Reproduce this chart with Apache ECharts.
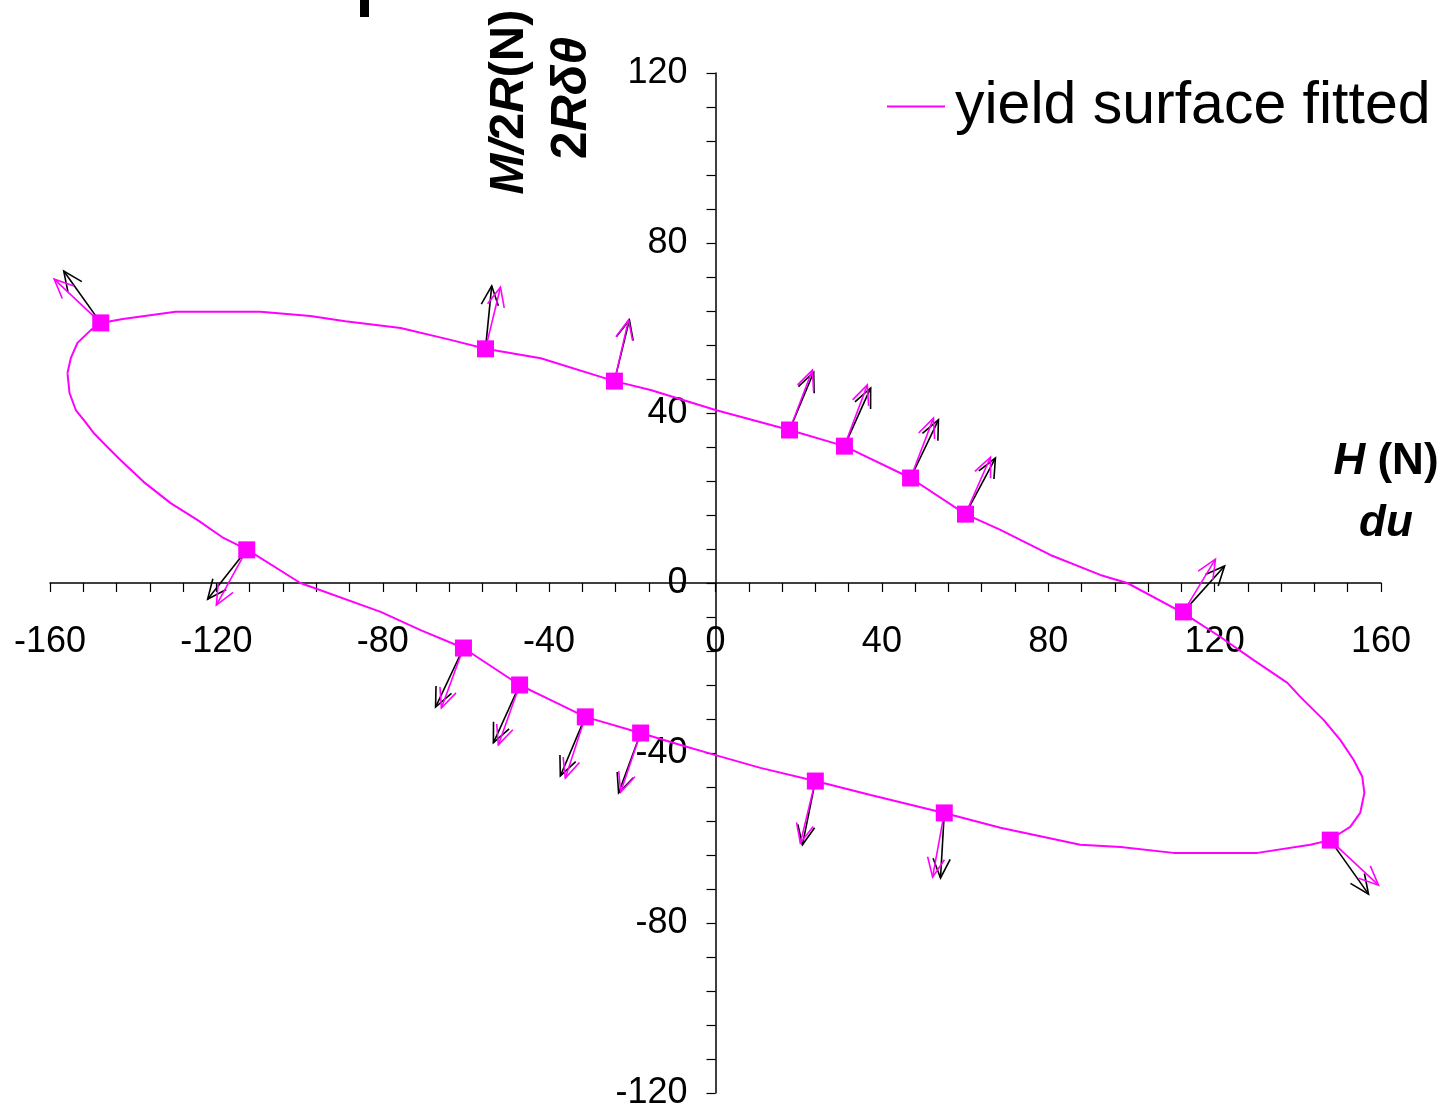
<!DOCTYPE html>
<html>
<head>
<meta charset="utf-8">
<script src="https://cdn.jsdelivr.net/npm/echarts@6/dist/echarts.min.js"></script>
<style>
html,body{margin:0;padding:0;background:#fff;}
#chart{width:1447px;height:1111px;}
</style>
</head>
<body>
<div id="chart"></div>
<script>
// ---- data (H in N, M/2R in N) ----
const xTicks = [-160, -120, -80, -40, 0, 40, 80, 120, 160];
const yTicks = [-120, -80, -40, 0, 40, 80, 120];

// fitted yield surface (closed loop)
const yieldSurface = [
  [-155.8,49.4],[-155.0,52.9],[-153.4,56.5],[-150.2,59.5],[-147.8,61.2],[-142.5,62.1],
  [-129.8,63.8],[-109.4,63.8],[-97.4,62.8],[-89,61.6],[-75.7,60],[-63.7,57.2],
  [-55.3,55.1],[-42,52.9],[-24.3,47.5],[-15.6,45.4],[0,40.7],[17.8,36],[31,32.2],
  [46.9,24.7],[60.1,16.2],[68.5,12.5],[80.5,6.6],[92.5,1.9],[99,0],[112.5,-7.1],
  [121.4,-12.7],[129.3,-18.1],[137.5,-23.5],[140.6,-26.8],[146.2,-32.2],[150.2,-36.9],
  [153.4,-41.6],[155.5,-45.6],[156.0,-49.4],[155.0,-54.1],[152.6,-57.4],[149.5,-59.3],
  [147.8,-60.5],[143.0,-61.6],[130.3,-63.5],[110.1,-63.5],[97.4,-62.1],[87.7,-61.6],
  [68.5,-57.6],[55,-54.1],[37.3,-49.9],[24,-46.6],[10.8,-43.5],[0,-40.5],[-8.4,-38.1],
  [-18,-35.3],[-31.3,-31.5],[-39.7,-27.5],[-47.1,-24],[-60.6,-15.3],[-70.9,-11.1],
  [-80.5,-6.8],[-99.8,0],[-112.5,7.8],[-118.3,10.6],[-124.5,14.8],[-131.0,18.8],
  [-137.5,23.8],[-143.0,28.9],[-146.2,32],[-149.5,35.3],[-151.9,38.4],[-153.8,40.7],
  [-155.3,44.7],[-155.8,49.4]
];

// measured load points on the surface
const loadPoints = [
  [-147.8,61.2],[-55.3,55.1],[-24.3,47.5],[17.8,36],[31,32.2],[46.9,24.7],[60.1,16.2],
  [112.5,-6.8],[147.8,-60.5],[-112.7,7.8],[-60.6,-15.3],[-47.1,-24],[-31.3,-31.5],
  [-18,-35.3],[24,-46.6],[55,-54.1]
];

// tips of the measured displacement increments (du, 2R dtheta) - black arrows
const flowTips = [
  [-156.7,73.4],[-53.8,69.9],[-20.7,61.9],[23.6,49.6],[37.3,45.9],[53.6,38.4],[67.3,29.4],
  [122.4,4.0],[157,-73.2],[-122.1,-3.8],[-67.3,-29.2],[-53.4,-37.6],[-37.3,-45.4],
  [-23.3,-49.4],[20.9,-61.6],[54.1,-69.4]
];

// tips of the normals to the fitted surface - magenta arrows
const normalTips = [
  [-159,71.5],[-51.7,69.6],[-20.9,61.9],[23.3,50.1],[36.5,46.6],[52.4,38.8],[66.1,29.6],
  [120.2,5.6],[159.4,-71.1],[-120,-5.2],[-65.9,-29.4],[-52.2,-38.1],[-36.1,-45.9],
  [-22.8,-49.2],[20.4,-61.2],[52.2,-69.2]
];

// ---- chart ----
const FONT = "'Liberation Sans', Arial, sans-serif";
const MAGENTA = '#FF00FF';
const W = 1447, H = 1111;
const GRID = { left: 50, right: 66, top: 73, bottom: 18 };
const xMin = xTicks[0], xMax = xTicks[xTicks.length - 1];
const yMin = yTicks[0], yMax = yTicks[yTicks.length - 1];
// move axes so that they cross at the origin (labels travel with them)
const gridW = W - GRID.left - GRID.right, gridH = H - GRID.top - GRID.bottom;
const xAxisOffset = -gridH * (0 - yMin) / (yMax - yMin);
const yAxisOffset = -gridW * (0 - xMin) / (xMax - xMin);

function arrowRenderer(color) {
  return function (params, api) {
    const a = api.coord([api.value(0), api.value(1)]);
    const b = api.coord([api.value(2), api.value(3)]);
    const ang = Math.atan2(b[1] - a[1], b[0] - a[0]);
    const L = 21, w = 0.42;
    const h1 = [b[0] - L * Math.cos(ang - w), b[1] - L * Math.sin(ang - w)];
    const h2 = [b[0] - L * Math.cos(ang + w), b[1] - L * Math.sin(ang + w)];
    return {
      type: 'group',
      children: [
        { type: 'line', shape: { x1: a[0], y1: a[1], x2: b[0], y2: b[1] },
          style: { stroke: color, lineWidth: 1.6 } },
        { type: 'polyline', shape: { points: [h1, b, h2] },
          style: { stroke: color, lineWidth: 1.6, fill: null } }
      ]
    };
  };
}

const flowData = loadPoints.map((p, i) => [p[0], p[1], flowTips[i][0], flowTips[i][1]]);
const normalData = loadPoints.map((p, i) => [p[0], p[1], normalTips[i][0], normalTips[i][1]]);

const chart = echarts.init(document.getElementById('chart'), null, { renderer: 'canvas' });

const option = {
  backgroundColor: '#ffffff',
  animation: false,
  textStyle: { fontFamily: FONT },
  grid: Object.assign({ containLabel: false, outerBoundsMode: 'none' }, GRID),
  legend: {
    data: ['yield surface fitted'],
    left: 882, top: 72,
    icon: 'rect', itemWidth: 58, itemHeight: 2,
    textStyle: { fontSize: 59, color: '#000', fontFamily: FONT, padding: [0, 0, 0, 5] },
    selectedMode: false
  },
  xAxis: {
    type: 'value', min: xMin, max: xMax, interval: 8,
    position: 'bottom', offset: xAxisOffset,
    splitLine: { show: false },
    axisLine: { onZero: false, lineStyle: { color: '#000', width: 1.5 } },
    axisTick: { show: true, length: 9, lineStyle: { color: '#000', width: 1.2 } },
    axisLabel: {
      color: '#000', fontSize: 36, margin: 41, fontFamily: FONT,
      formatter: v => (xTicks.indexOf(Math.round(v)) >= 0 ? String(Math.round(v)) : '')
    }
  },
  yAxis: {
    type: 'value', min: yMin, max: yMax, interval: 8,
    position: 'left', offset: yAxisOffset,
    splitLine: { show: false },
    axisLine: { onZero: false, lineStyle: { color: '#000', width: 1.5 } },
    axisTick: { show: true, length: 9, lineStyle: { color: '#000', width: 1.2 } },
    axisLabel: {
      color: '#000', fontSize: 36, margin: 28, fontFamily: FONT,
      formatter: v => (yTicks.indexOf(Math.round(v)) >= 0 ? String(Math.round(v)) : '')
    }
  },
  series: [
    {
      name: 'flow', type: 'custom', renderItem: arrowRenderer('#000000'),
      data: flowData, encode: { x: [0, 2], y: [1, 3] }, clip: false, z: 2, silent: true
    },
    {
      name: 'normal', type: 'custom', renderItem: arrowRenderer(MAGENTA),
      data: normalData, encode: { x: [0, 2], y: [1, 3] }, clip: false, z: 3, silent: true
    },
    {
      name: 'yield surface fitted', type: 'line', data: yieldSurface,
      showSymbol: false, symbol: 'none', smooth: false,
      lineStyle: { color: MAGENTA, width: 2 }, itemStyle: { color: MAGENTA }, z: 4
    },
    {
      name: 'points', type: 'scatter', data: loadPoints,
      symbol: 'rect', symbolSize: 17, itemStyle: { color: MAGENTA, opacity: 1 }, z: 5
    }
  ],
  graphic: [
    { type: 'rect', left: 360, top: 0, shape: { width: 9, height: 17 }, style: { fill: '#000' } },
    {
      type: 'text', x: 509, y: 102, rotation: Math.PI / 2,
      style: {
        text: '{i|M/}{b|2}{i|R}{b|(N)}',
        align: 'center', verticalAlign: 'middle',
        rich: {
          i: { fontSize: 49, fontWeight: 'bold', fontStyle: 'italic', fontFamily: FONT, fill: '#000' },
          b: { fontSize: 49, fontWeight: 'bold', fontFamily: FONT, fill: '#000' }
        }
      }
    },
    {
      type: 'text', x: 572, y: 98, rotation: Math.PI / 2,
      style: {
        text: '{b|2}{i|Rδθ}',
        align: 'center', verticalAlign: 'middle',
        rich: {
          i: { fontSize: 50, fontWeight: 'bold', fontStyle: 'italic', fontFamily: FONT, fill: '#000' },
          b: { fontSize: 50, fontWeight: 'bold', fontFamily: FONT, fill: '#000' }
        }
      }
    },
    {
      type: 'text', x: 1386, y: 462,
      style: {
        text: '{i|H}{b| (N)}',
        align: 'center', verticalAlign: 'middle',
        rich: {
          i: { fontSize: 44, fontWeight: 'bold', fontStyle: 'italic', fontFamily: FONT, fill: '#000' },
          b: { fontSize: 44, fontWeight: 'bold', fontFamily: FONT, fill: '#000' }
        }
      }
    },
    {
      type: 'text', x: 1386, y: 524,
      style: {
        text: 'du', align: 'center', verticalAlign: 'middle',
        fontSize: 44, fontWeight: 'bold', fontStyle: 'italic', fontFamily: FONT, fill: '#000'
      }
    }
  ]
};

chart.setOption(option);
</script>
</body>
</html>
